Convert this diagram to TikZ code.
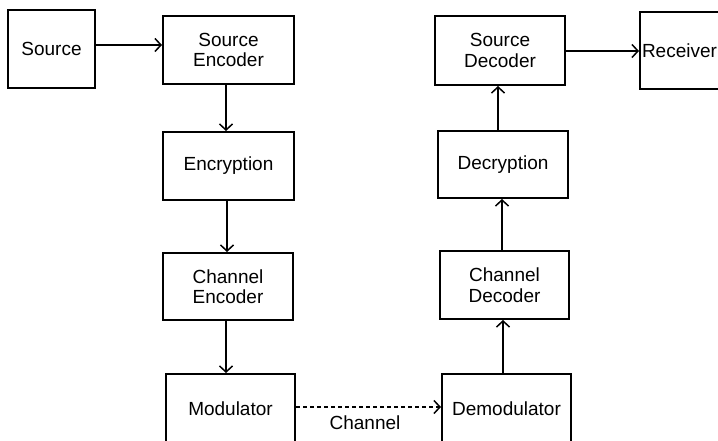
\documentclass[tikz,border=0pt]{standalone}
\usepackage{fontspec}
\setmainfont{Liberation Sans}
\usetikzlibrary{arrows.meta}
\begin{document}
\begin{tikzpicture}[x=1pt,y=-1pt,
  blk/.style={draw, line width=2pt, inner sep=0pt, align=center,
    font=\fontsize{19}{20.5}\selectfont},
  conn/.style={line width=1.5pt, -{Straight Barb[length=6pt,width=13pt]}},
  lbl/.style={inner sep=0pt, font=\fontsize{19}{20.5}\selectfont}]
\useasboundingbox (0,0) rectangle (718,441);
\clip (0,0) rectangle (718,441);
\node[blk, minimum width=87pt, minimum height=78pt] (src) at (51.5,49) {Source};
\node[blk, minimum width=131pt, minimum height=68pt] (senc) at (228.5,50) {Source\\Encoder};
\node[blk, minimum width=131pt, minimum height=68pt] (encr) at (228.5,166) {Encryption};
\node[blk, minimum width=130pt, minimum height=67pt] (cenc) at (228,286.5) {Channel\\Encoder};
\node[blk, minimum width=129pt, minimum height=70pt] (mod) at (230.5,409) {Modulator};
\node[blk, minimum width=130pt, minimum height=69pt] (sdec) at (500,50.5) {Source\\Decoder};
\node[blk, anchor=west, minimum height=77pt, text width=127pt, align=left, inner xsep=2pt] (recv) at (639,50.5) {Receiver};
\node[blk, minimum width=130pt, minimum height=67pt] (decr) at (503,164.5) {Decryption};
\node[blk, minimum width=129pt, minimum height=68pt] (cdec) at (504.5,285) {Channel\\Decoder};
\node[blk, minimum width=129pt, minimum height=70pt] (demod) at (506.5,409) {Demodulator};
\node[lbl] (chl) at (365,423) {Channel};
\draw[conn] (src.east |- 0,45) -- (senc.west |- 0,45);
\draw[conn] (senc.south -| 226,0) -- (encr.north -| 226,0);
\draw[conn] (encr.south -| 227,0) -- (cenc.north -| 227,0);
\draw[conn] (cenc.south -| 226,0) -- (mod.north -| 226,0);
\draw[conn, dashed, dash pattern=on 4pt off 3pt] (mod.east |- 0,407) -- (demod.west |- 0,407);
\draw[conn] (demod.north -| 503,0) -- (cdec.south -| 503,0);
\draw[conn] (cdec.north -| 502,0) -- (decr.south -| 502,0);
\draw[conn] (decr.north -| 498,0) -- (sdec.south -| 498,0);
\draw[conn] (sdec.east |- 0,51) -- (recv.west |- 0,51);
\end{tikzpicture}
\end{document}
